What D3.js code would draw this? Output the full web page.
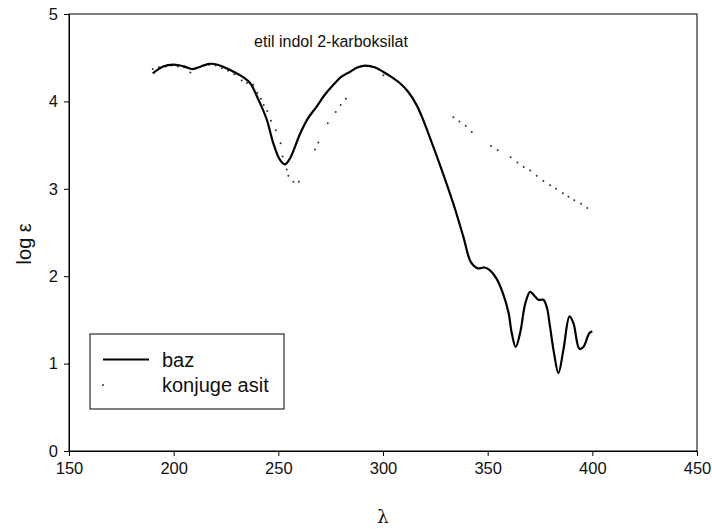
<!DOCTYPE html>
<html>
<head>
<meta charset="utf-8">
<script src="https://cdn.jsdelivr.net/npm/d3@7"></script>
<style>
  html, body { margin: 0; padding: 0; background: #fff; }
  svg { display: block; font-family: "Liberation Sans", Arial, sans-serif; }
</style>
</head>
<body>
<svg id="chart" width="712" height="529"></svg>
<script>
// Absorption spectrum of ethyl indole-2-carboxylate: base vs. conjugate acid
const title = "etil indol 2-karboksilat";
const xTicks = [150, 200, 250, 300, 350, 400, 450];
const yTicks = [0, 1, 2, 3, 4, 5];

// baz (solid curve)
const bazLambda = [190, 195, 200, 205, 209, 213, 217, 221, 227, 233, 236.5, 240.5, 244.5, 247.6, 250.8, 253.2, 255.6,
  260.4, 264, 268.3, 272, 276.3, 280, 284.3, 288, 291.5, 296, 300, 304, 308, 312, 316, 319, 322.5, 328, 333.6,
  338.4, 342, 345.3, 348.5, 351, 354.3, 357.5, 360, 361.5, 363.4, 365.5, 368, 370.3, 372.2, 374.2, 376.6, 378.2,
  379.8, 381.7, 383.8, 386.2, 389.1, 391, 393.8, 395.7, 398.6, 400];
const bazLogE = [4.32, 4.40, 4.42, 4.40, 4.37, 4.40, 4.43, 4.42, 4.36, 4.28, 4.21, 4.02, 3.79, 3.52, 3.33, 3.28, 3.35,
  3.63, 3.80, 3.94, 4.07, 4.19, 4.28, 4.34, 4.39, 4.41, 4.39, 4.34, 4.28, 4.21, 4.11, 3.96, 3.80, 3.58, 3.22, 2.83,
  2.45, 2.16, 2.09, 2.10, 2.07, 1.97, 1.79, 1.58, 1.35, 1.19, 1.35, 1.69, 1.82, 1.78, 1.73, 1.73, 1.65,
  1.42, 1.12, 0.89, 1.16, 1.54, 1.46, 1.17, 1.19, 1.35, 1.37];

// konjuge asit (dotted, sparse samples)
const asitLambda = [190, 193, 196, 199, 202, 205, 208, 211, 214, 217, 220, 223, 226, 229, 232.5, 235, 238, 240, 241.7,
  243, 244.7, 246.5, 248.8, 251.1, 252, 254, 254.8, 257.2, 259.8,
  267.5, 269.1, 273.6, 277.4, 279.8, 282.3, 300.2,
  333.6, 336.5, 339.5, 342.4, 351.6, 354.8, 361, 364.2, 367.2, 370.3, 373.4, 376.6, 379.8, 382.7, 385.9, 388.6,
  391.4, 394.6, 397.6];
const asitLogE = [4.37, 4.39, 4.40, 4.41, 4.40, 4.39, 4.33, 4.38, 4.41, 4.42, 4.41, 4.38, 4.35, 4.31, 4.24, 4.21, 4.19,
  4.10, 4.03, 3.96, 3.89, 3.78, 3.67, 3.52, 3.37, 3.22, 3.15, 3.08, 3.08,
  3.45, 3.53, 3.75, 3.88, 3.96, 4.03, 4.30,
  3.82, 3.77, 3.72, 3.65, 3.49, 3.44, 3.36, 3.30, 3.25, 3.21, 3.15, 3.09, 3.04, 3.00, 2.95, 2.91,
  2.87, 2.83, 2.78];

const legendLabels = ["baz", "konjuge asit"];

const svg = d3.select("#chart");
const plot = { left: 69, right: 697, top: 14, bottom: 451 };

const x = d3.scaleLinear().domain([150, 450]).range([plot.left, plot.right]);
const y = d3.scaleLinear().domain([0, 5]).range([plot.bottom, plot.top]);

// plot frame
svg.append("rect")
  .attr("x", plot.left).attr("y", plot.top)
  .attr("width", plot.right - plot.left).attr("height", plot.bottom - plot.top)
  .attr("fill", "none").attr("stroke", "#000").attr("stroke-width", 1);

// axes
const xAxis = svg.append("g")
  .attr("transform", `translate(0,${plot.bottom})`)
  .call(d3.axisBottom(x).tickValues(xTicks).tickSize(5).tickPadding(6).tickFormat(d3.format("d")));
const yAxis = svg.append("g")
  .attr("transform", `translate(${plot.left},0)`)
  .call(d3.axisLeft(y).tickValues(yTicks).tickSize(5).tickPadding(6).tickFormat(d3.format("d")));

[xAxis, yAxis].forEach(g => {
  g.select(".domain").attr("stroke", "#000");
  g.selectAll(".tick line").attr("stroke", "#000");
  g.selectAll(".tick text")
    .attr("fill", "#111")
    .style("font-family", "'Liberation Sans', Arial, sans-serif")
    .style("font-size", "16.5px");
});

// axis titles
svg.append("text")
  .attr("x", x(300)).attr("y", 523)
  .attr("text-anchor", "middle")
  .style("font-size", "18px").attr("fill", "#111")
  .style("font-family", "'DejaVu Serif', serif")
  .text("λ");

svg.append("text")
  .attr("transform", `translate(31,${y(2.37)}) rotate(-90)`)
  .attr("text-anchor", "middle")
  .style("font-size", "20px").attr("fill", "#111")
  .text("log ε");

// title
svg.append("text")
  .attr("x", 331).attr("y", 47)
  .attr("text-anchor", "middle")
  .style("font-size", "16px").attr("fill", "#111")
  .text(title);

// conjugate acid dots
const asit = asitLambda.map((l, i) => ({ l, v: asitLogE[i] }));
svg.append("g").selectAll("circle")
  .data(asit)
  .join("circle")
  .attr("cx", d => x(d.l))
  .attr("cy", d => y(d.v))
  .attr("r", 1)
  .attr("fill", "#333");

// base curve
const baz = bazLambda.map((l, i) => ({ l, v: bazLogE[i] }));
const line = d3.line()
  .x(d => x(d.l))
  .y(d => y(d.v))
  .curve(d3.curveCatmullRom.alpha(0.5));
svg.append("path")
  .datum(baz)
  .attr("d", line)
  .attr("fill", "none")
  .attr("stroke", "#000")
  .attr("stroke-width", 2.2)
  .attr("stroke-linejoin", "round");

// legend
const lg = svg.append("g");
lg.append("rect")
  .attr("x", 90).attr("y", 334).attr("width", 194).attr("height", 75)
  .attr("fill", "#fff").attr("stroke", "#000").attr("stroke-width", 1);
lg.append("line")
  .attr("x1", 103).attr("x2", 149).attr("y1", 359.5).attr("y2", 359.5)
  .attr("stroke", "#000").attr("stroke-width", 2);
lg.append("circle")
  .attr("cx", 103).attr("cy", 385).attr("r", 1).attr("fill", "#333");
lg.selectAll("text.lbl")
  .data(legendLabels)
  .join("text")
  .attr("class", "lbl")
  .attr("x", 162)
  .attr("y", (d, i) => 367 + i * 25)
  .style("font-size", "20px").attr("fill", "#111")
  .text(d => d);
</script>
</body>
</html>
